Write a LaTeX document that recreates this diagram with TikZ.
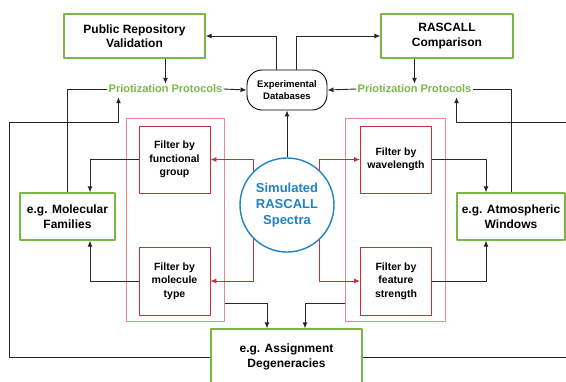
\documentclass[tikz,border=0pt]{standalone}
\usepackage{fontspec}
\setmainfont{Liberation Sans}
\usetikzlibrary{arrows.meta,positioning,calc}

\definecolor{boxgreen}{HTML}{7AB648}
\definecolor{filtred}{HTML}{C92D39}
\definecolor{outred}{HTML}{E6868E}
\definecolor{specblue}{HTML}{1F83C4}

\begin{document}
\begin{tikzpicture}[x=1pt,y=-1pt, line join=round, >={Latex[length=6pt,width=5pt]},
  greenbox/.style={draw=boxgreen, line width=1.3pt, fill=white, align=center, inner sep=0pt, font=\fontsize{12}{14.5}\selectfont\bfseries},
  filterbox/.style={draw=filtred, line width=0.9pt, align=center, inner sep=0pt, minimum width=71pt, font=\fontsize{10.5}{13.5}\selectfont\bfseries},
  outerbox/.style={draw=outred, line width=1pt, inner sep=0pt},
  protext/.style={text=boxgreen, inner sep=1pt, font=\fontsize{11}{13}\selectfont\bfseries},
  link/.style={draw=black!85, line width=0.9pt},
  redlink/.style={draw=filtred, line width=0.9pt}]
\useasboundingbox (0,0) rectangle (566,381);

% top row
\node[greenbox, minimum width=141pt, minimum height=44pt] (pub) at (134.5,36) {Public Repository\\Validation};
\node[greenbox, minimum width=132pt, minimum height=44pt] (ras) at (447,36) {RASCALL\\Comparison};
\node[draw, line width=0.9pt, rounded corners=15pt, minimum width=80pt, minimum height=40pt, inner sep=0pt, align=center,
  font=\fontsize{9.5}{12}\selectfont\bfseries] (exp) at (287,90) {Experimental\\Databases};
\node[protext] (prl) at (165.5,89) {Priotization Protocols};
\node[protext] (prr) at (414.5,89) {Priotization Protocols};

% filter groups
\node[outerbox, minimum width=98pt, minimum height=203pt] (oL) at (175,219.5) {};
\node[outerbox, minimum width=100pt, minimum height=203pt] (oR) at (395,219.5) {};
\node[filterbox, minimum height=67pt] (fg) at (174.5,159.5) {Filter by\\functional\\group};
\node[filterbox, minimum height=68pt] (mt) at (174.5,281) {Filter by\\molecule\\type};
\node[filterbox, minimum height=67pt] (wl) at (396,159.5) {Filter by\\wavelength};
\node[filterbox, minimum height=68pt] (fs) at (396,281) {Filter by\\feature\\strength};

% side and bottom boxes
\node[greenbox, minimum width=95pt, minimum height=47pt] (mol) at (67.5,216.5) {e.g. Molecular\\Families};
\node[greenbox, minimum width=108pt, minimum height=47pt] (atm) at (511,216.5) {e.g. Atmospheric\\Windows};
\node[greenbox, minimum width=151pt, minimum height=56pt] (asg) at (286.5,357) {e.g. Assignment\\Degeneracies};

% red feeds from the spectra
\coordinate (sl) at (253,205);
\coordinate (sr) at (319,205);
\draw[redlink,->] (sl) |- (fg.east);
\draw[redlink,->] (sl) |- (mt.east);
\draw[redlink,->] (sr) |- (wl.west);
\draw[redlink,->] (sr) |- (fs.west);
\node[draw=specblue, fill=white, line width=1.4pt, circle, minimum size=94pt, inner sep=0pt, align=center,
  text=specblue, font=\fontsize{13}{16}\selectfont\bfseries] (spec) at (287,205) {Simulated\\RASCALL\\Spectra};

% black links
\draw[link,->] (spec.north) -- (exp.south);
\draw[link,->] ($(exp.north)+(-11,0)$) |- (pub.east);
\draw[link,->] ($(exp.north)+(9,0)$) |- (ras.west);
\draw[link,->] (prl.north |- pub.south) -- (prl.north);
\draw[link,->] (prr.north |- ras.south) -- (prr.north);
\draw[link,->] (prl.east) -- (exp.west);
\draw[link,->] (prr.west) -- (exp.east);
\draw[link] (mol.north) |- (prl.west);
\draw[link] (atm.north) |- (prr.east);
\draw[link,->] (fg.west) -| ($(mol.north)+(22.5,0)$);
\draw[link,->] (mt.west) -| ($(mol.south)+(22.5,0)$);
\draw[link,->] (wl.east) -| ($(atm.north)+(-25,0)$);
\draw[link,->] (fs.east) -| ($(atm.south)+(-25,0)$);
\draw[link,->] ($(oL.south east)+(0,-18)$) -| ($(asg.north)+(-19.5,0)$);
\draw[link,->] ($(oR.south west)+(0,-18)$) -| ($(asg.north)+(18.5,0)$);
\draw[link,->] (asg.west) -| (9,122) -| ($(prl.south west)+(11,3)$);
\draw[link,->] (asg.east) -| (568,122) -| ($(prr.south east)+(-16,3)$);
\end{tikzpicture}
\end{document}
